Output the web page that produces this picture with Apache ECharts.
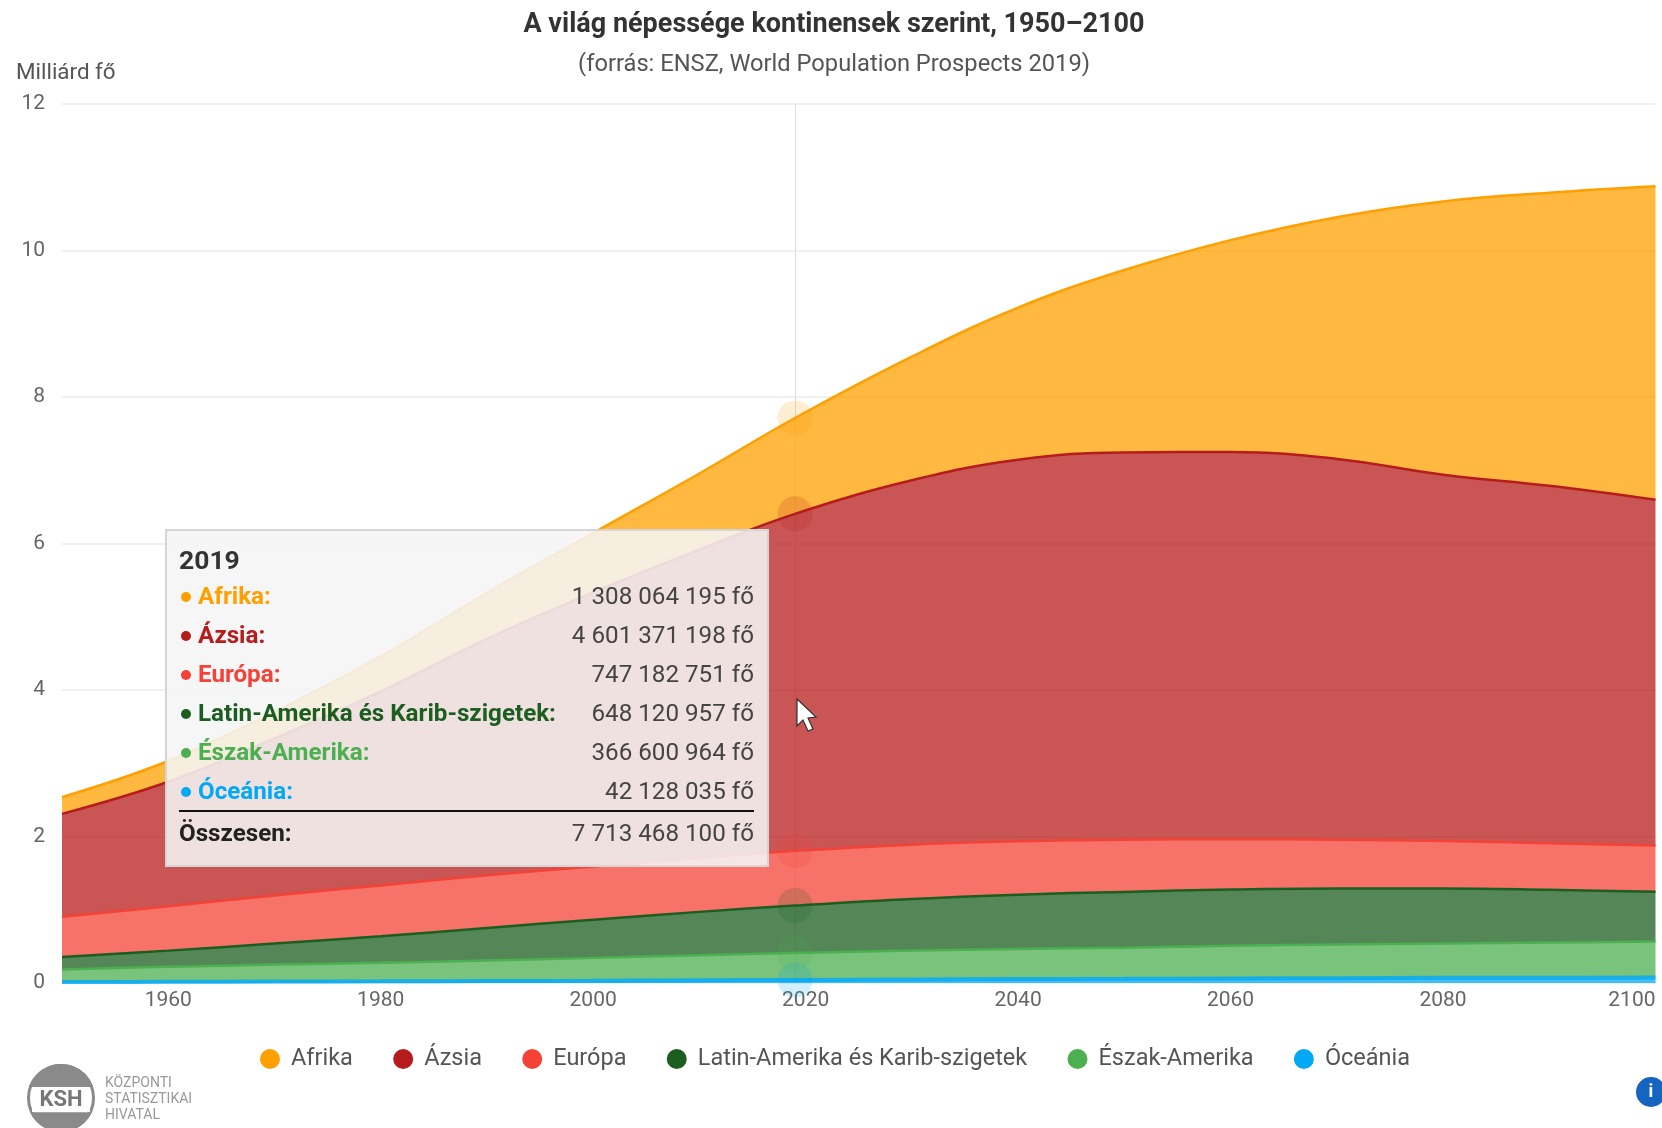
<!DOCTYPE html>
<html lang="hu"><head><meta charset="utf-8">
<style>html,body{margin:0;padding:0;background:#fff;overflow:hidden}#c{width:1662px;height:1128px}</style>
<script src="https://cdn.jsdelivr.net/npm/echarts@6/dist/echarts.min.js"></script>
</head><body><div id="c"></div>
<script>
const years   = [1950,1960,1970,1980,1990,2000,2010,2019,2030,2040,2050,2060,2070,2080,2090,2100];
const afrika  = [0.228,0.283,0.363,0.476,0.630,0.811,1.039,1.308,1.688,2.077,2.489,2.894,3.300,3.730,4.000,4.280];
const azsia   = [1.405,1.700,2.142,2.650,3.226,3.741,4.210,4.601,4.974,5.210,5.290,5.284,5.201,5.000,4.880,4.720];
const europa  = [0.549,0.606,0.657,0.694,0.721,0.726,0.736,0.747,0.741,0.728,0.710,0.689,0.665,0.650,0.636,0.630];
const latin   = [0.169,0.221,0.288,0.361,0.443,0.522,0.591,0.648,0.706,0.742,0.762,0.768,0.763,0.749,0.720,0.680];
const eszak   = [0.173,0.205,0.231,0.254,0.280,0.312,0.343,0.367,0.394,0.410,0.425,0.445,0.460,0.470,0.480,0.491];
const oceania = [0.013,0.016,0.020,0.023,0.027,0.031,0.037,0.042,0.048,0.054,0.057,0.062,0.066,0.070,0.072,0.075];
const xTickLabels = [1960,1980,2000,2020,2040,2060,2080,2100];
const names  = ['Afrika','Ázsia','Európa','Latin-Amerika és Karib-szigetek','Észak-Amerika','Óceánia'];
const colors = ['#FFA000','#B71C1C','#F44336','#1B5E20','#4CAF50','#03A9F4'];
const values = [afrika,azsia,europa,latin,eszak,oceania];
const tipYear = 2019;
const tipValues = ['1 308 064 195 fő','4 601 371 198 fő','747 182 751 fő','648 120 957 fő','366 600 964 fő','42 128 035 fő'];
const tipTotal = '7 713 468 100 fő';
const FONT = 'Roboto, sans-serif';

const chart = echarts.init(document.getElementById('c'), null, {renderer:'canvas'});
const series = names.map((n,i)=>({
  name:n, type:'line', stack:'t', smooth:0.4, symbol:'none', showSymbol:true,
  z: 2,
  encode:{x:1,y:0},
  lineStyle:{color:colors[i],width:i===5?4:2.5,opacity:i===5?0.8:1},
  itemStyle:{color:colors[i]},
  areaStyle:{color:colors[i],opacity:0.75},
  emphasis:{disabled:true},
  data: years.map((y,k)=> y===tipYear
    ? {value:[values[i][k],y],symbol:'circle',symbolSize:32,itemStyle:{color:colors[i],opacity:0.18}}
    : [values[i][k],y])
})).reverse();

function tipHtml(){
  let h = `<div style="font:bold 26.5px ${FONT};color:#333;line-height:30px;margin-bottom:2px">${tipYear}</div>`;
  names.forEach((n,i)=>{
    h += `<div style="display:flex;justify-content:space-between;height:39px;line-height:39px">`+
      `<span style="font:bold 24.2px/39px ${FONT};color:${colors[i]}"><span style="display:inline-block;width:10px;height:10px;border-radius:50%;background:${colors[i]};margin:0 7px 2px 2px;vertical-align:middle"></span>${n}:</span>`+
      `<span style="font:24.2px/39px ${FONT};color:#444">${tipValues[i]}</span></div>`;
  });
  h += `<div style="border-top:2px solid #111;margin-top:-1px;display:flex;justify-content:space-between;height:42px;line-height:42px">`+
    `<span style="font:bold 24.2px/42px ${FONT};color:#222">Összesen:</span><span style="font:24.2px/42px ${FONT};color:#444">${tipTotal}</span></div>`;
  return h;
}

chart.setOption({
  animation:false,
  backgroundColor:'#fff',
  textStyle:{fontFamily:FONT},
  title:[
    {text:'A világ népessége kontinensek szerint, 1950–2100',left:829,textAlign:'center',top:7,
     textStyle:{fontFamily:FONT,fontWeight:'bold',fontSize:27,color:'#333'}},
    {text:'(forrás: ENSZ, World Population Prospects 2019)',left:829,textAlign:'center',top:48,
     textStyle:{fontFamily:FONT,fontWeight:'normal',fontSize:23.7,color:'#555'}}
  ],
  grid:{left:62,right:6.5,top:104,bottom:145,containLabel:false},
  legend:{
    data:names,left:255,top:1042,icon:'circle',itemWidth:20,itemHeight:20,itemGap:40.3,
    textStyle:{fontFamily:FONT,fontSize:23.5,color:'#555',padding:[0,0,0,6]},selectedMode:false
  },
  tooltip:{
    trigger:'axis',alwaysShowContent:true,transitionDuration:0,showDelay:0,
    position:[165,529],
    backgroundColor:'rgba(245,245,245,0.88)',borderColor:'#d5d5d5',borderWidth:2,borderRadius:0,padding:[14,13,0,12],
    shadowBlur:0,
    extraCssText:'width:604px;height:338px;box-sizing:border-box;box-shadow:none;',
    formatter:tipHtml,
    axisPointer:{type:'line',lineStyle:{color:'#ddd',width:1,type:'solid'},z:1}
  },
  xAxis:{
    type:'value',min:1950,max:2100,interval:10,
    axisLine:{show:false},axisTick:{show:false},splitLine:{show:false},
    axisLabel:{fontFamily:FONT,fontSize:21,color:'#666',margin:7,alignMaxLabel:'right',showMinLabel:true,showMaxLabel:true,
      formatter:v=>xTickLabels.includes(v)?String(v):''}
  },
  yAxis:{
    type:'value',min:0,max:12,interval:2,
    name:'Milliárd fő',nameLocation:'end',nameGap:20,
    nameTextStyle:{fontFamily:FONT,fontSize:22.4,color:'#555',align:'left',padding:[0,0,0,-46]},
    axisLine:{show:false},axisTick:{show:false},
    splitLine:{show:true,lineStyle:{color:'#f0f0f0',width:2}},
    axisLabel:{fontFamily:FONT,fontSize:21,color:'#666',margin:17,padding:[5,0,0,0]}
  },
  series,
  graphic:[
    {type:'circle',shape:{cx:61,cy:1098,r:32.5},style:{stroke:'#8a8a8a',fill:null,lineWidth:3}},
    {type:'arc',shape:{cx:61,cy:1098,r:34,startAngle:Math.PI+0.33,endAngle:2*Math.PI-0.33},style:{stroke:null,fill:'#8a8a8a'}},
    {type:'arc',shape:{cx:61,cy:1098,r:34,startAngle:0.43,endAngle:Math.PI-0.43},style:{stroke:null,fill:'#8a8a8a'}},
    {type:'rect',shape:{x:32,y:1087,width:58,height:25},style:{fill:'#fff'}},
    {type:'text',x:61,y:1100,style:{text:'KSH',fill:'#777',font:'bold 22px Roboto',align:'center',verticalAlign:'middle'}},
    {type:'text',x:105,y:1083,style:{text:'KÖZPONTI',fill:'#999',font:'14px Roboto',verticalAlign:'middle'}},
    {type:'text',x:105,y:1099,style:{text:'STATISZTIKAI',fill:'#999',font:'14px Roboto',verticalAlign:'middle'}},
    {type:'text',x:105,y:1115,style:{text:'HIVATAL',fill:'#999',font:'14px Roboto',verticalAlign:'middle'}},
    {type:'circle',shape:{cx:1651,cy:1092,r:15},style:{fill:'#1565C0'}},
    {type:'text',x:1651,y:1092,style:{text:'i',fill:'#fff',font:'bold 18px Roboto',align:'center',verticalAlign:'middle'}},
    {type:'polygon',z:100,shape:{points:[[797,699],[797,726],[803,720],[808,731],[813,729],[808,718],[816,717]]},style:{fill:'#fff',stroke:'#333',lineWidth:1.2}}
  ]
});
chart.dispatchAction({type:'showTip',seriesIndex:0,dataIndex:years.indexOf(tipYear)});
</script></body></html>
